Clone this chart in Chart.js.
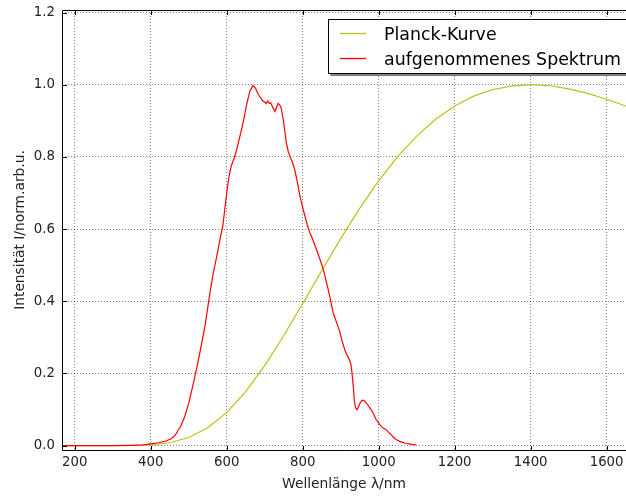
<!DOCTYPE html>
<html>
<head>
<meta charset="utf-8">
<script src="https://cdn.jsdelivr.net/npm/chart.js@4.4.1/dist/chart.umd.min.js"></script>
<style>
  body { margin: 0; background: #fff; overflow: hidden; }
  canvas { display: block; }
</style>
</head>
<body>
<canvas id="grafico" width="626" height="498"></canvas>
<script>
// Planck-Kurve (normiert)
const planckWl = [150, 200, 250, 300, 350, 400, 450, 500, 550, 600, 650, 700, 750, 800, 850, 900, 950,
    1000, 1050, 1100, 1150, 1200, 1250, 1300, 1350, 1400, 1450, 1500, 1550, 1600, 1650, 1700];
const planckVal = [0, 0, 0, 0.0000, 0.0004, 0.0021, 0.0081, 0.0225, 0.0494, 0.0916, 0.1496, 0.2217, 0.3045,
    0.3935, 0.4844, 0.5737, 0.6574, 0.7336, 0.8007, 0.8577, 0.9044, 0.9409, 0.9683, 0.9868, 0.9963,
    1.0, 0.9972, 0.9887, 0.9761, 0.9597, 0.941, 0.920];

// aufgenommenes Spektrum
const spekWl = [150, 200, 250, 300, 350, 380, 400, 420, 440, 455, 465, 472, 480, 490, 500, 514, 528, 543,
    556, 565, 574, 582, 590, 600, 606, 612, 622, 632, 640, 647, 653, 661, 666, 669, 672, 676, 680, 685,
    690, 695, 700, 704, 708, 712, 716, 720, 724, 727, 731, 735, 739, 743, 749, 757, 762, 767, 773, 779,
    786, 793, 800, 806, 812, 819, 827, 836, 845, 854, 861, 867, 874, 880, 888, 897, 905, 912, 918, 923,
    927, 930, 933, 936, 939, 943, 947, 951, 956, 960, 965, 972, 980, 987, 993, 1000, 1006, 1012, 1019,
    1025, 1033, 1040, 1046, 1055, 1063, 1072, 1081, 1090, 1099];
const spekVal = [0, 0, 0, 0, 0.001, 0.002, 0.005, 0.008, 0.013, 0.020, 0.030, 0.042, 0.056, 0.082, 0.117,
    0.180, 0.250, 0.332, 0.424, 0.480, 0.525, 0.570, 0.610, 0.700, 0.745, 0.775, 0.803, 0.845, 0.880,
    0.915, 0.948, 0.982, 0.992, 0.998, 0.995, 0.990, 0.980, 0.970, 0.963, 0.955, 0.952, 0.948, 0.955,
    0.948, 0.950, 0.940, 0.932, 0.926, 0.937, 0.948, 0.945, 0.938, 0.903, 0.839, 0.815, 0.800, 0.785,
    0.765, 0.730, 0.690, 0.660, 0.636, 0.612, 0.590, 0.570, 0.544, 0.518, 0.489, 0.460, 0.433, 0.400,
    0.369, 0.345, 0.318, 0.285, 0.262, 0.248, 0.238, 0.225, 0.200, 0.165, 0.125, 0.105, 0.100, 0.108,
    0.118, 0.125, 0.126, 0.121, 0.112, 0.100, 0.087, 0.073, 0.063, 0.054, 0.048, 0.045, 0.038, 0.030,
    0.022, 0.017, 0.012, 0.009, 0.006, 0.005, 0.003, 0.002];

const xTicks = [200, 400, 600, 800, 1000, 1200, 1400, 1600];
const yTicks = [0.0, 0.2, 0.4, 0.6, 0.8, 1.0, 1.2];

const fontFam = "'DejaVu Sans', sans-serif";

function punkte(xs, ys) {
    return xs.map((x, i) => ({ x: x, y: ys[i] }));
}

function ohnePadding(s) {
    s.paddingTop = 0;
    s.paddingBottom = 0;
    s.paddingLeft = 0;
    s.paddingRight = 0;
}

// Rahmen + Ticks nach innen (wie matplotlib)
const rahmen = {
    id: 'rahmen',
    afterDatasetsDraw(chart) {
        const ctx = chart.ctx;
        const a = chart.chartArea;
        const l = Math.round(a.left) + 0.5, t = Math.round(a.top) + 0.5, b = Math.round(a.bottom) + 0.5;
        ctx.save();
        ctx.strokeStyle = '#000';
        ctx.lineWidth = 1;
        ctx.beginPath();
        ctx.moveTo(a.right + 2, t); ctx.lineTo(l, t); ctx.lineTo(l, b); ctx.lineTo(a.right + 2, b);
        const xs = chart.scales.x, ys = chart.scales.y;
        xTicks.forEach(v => {
            const px = Math.round(xs.getPixelForValue(v)) + 0.5;
            ctx.moveTo(px, b); ctx.lineTo(px, b - 4.5);
            ctx.moveTo(px, t); ctx.lineTo(px, t + 4.5);
        });
        yTicks.forEach(v => {
            const py = Math.round(ys.getPixelForValue(v)) + 0.5;
            ctx.moveTo(l, py); ctx.lineTo(l + 4.5, py);
        });
        ctx.stroke();
        ctx.restore();
    }
};

// Legende mit Schatten
const legende = {
    id: 'legende',
    afterDraw(chart) {
        const ctx = chart.ctx;
        const x = 328.5, y = 19.5, w = 340, h = 54;
        ctx.save();
        ctx.fillStyle = 'rgba(0,0,0,0.5)';
        ctx.fillRect(x + 2, y + 2.5, w, h);
        ctx.fillStyle = '#fff';
        ctx.fillRect(x, y, w, h);
        ctx.strokeStyle = '#000';
        ctx.lineWidth = 1;
        ctx.strokeRect(x, y, w, h);
        ctx.font = '17.4px ' + fontFam;
        ctx.textBaseline = 'alphabetic';
        chart.data.datasets.forEach((ds, i) => {
            const ly = 33.5 + i * 25;
            ctx.strokeStyle = ds.borderColor;
            ctx.lineWidth = 1.3;
            ctx.beginPath();
            ctx.moveTo(340, ly);
            ctx.lineTo(366, ly);
            ctx.stroke();
            ctx.fillStyle = '#000';
            ctx.fillText(ds.label, 384, 39.5 + i * 25);
        });
        ctx.restore();
    }
};

new Chart(document.getElementById('grafico').getContext('2d'), {
    type: 'line',
    data: {
        datasets: [{
            label: 'Planck-Kurve',
            data: punkte(planckWl, planckVal),
            borderColor: '#bfbf1a',
            borderWidth: 1.2,
            pointRadius: 0,
            tension: 0,
            order: 2
        }, {
            label: 'aufgenommenes Spektrum',
            data: punkte(spekWl, spekVal),
            borderColor: '#ff0000',
            borderWidth: 1.2,
            pointRadius: 0,
            tension: 0,
            order: 1
        }]
    },
    options: {
        responsive: false,
        animation: false,
        devicePixelRatio: 1,
        layout: { padding: { top: 10, right: 0, left: 0, bottom: 0 } },
        plugins: {
            legend: { display: false },
            tooltip: { enabled: false }
        },
        scales: {
            x: {
                type: 'linear',
                min: 166.5,
                max: 1651,
                afterBuildTicks: s => { s.ticks = xTicks.map(v => ({ value: v })); },
                afterFit: s => { s.height = 48; ohnePadding(s); },
                grid: { color: 'rgba(0,0,0,0.5)', lineWidth: 1, drawTicks: false },
                border: { display: false, dash: [1, 2] },
                ticks: {
                    padding: 5,
                    color: '#222',
                    maxRotation: 0,
                    font: { family: fontFam, size: 13.3 },
                    callback: v => String(v)
                },
                title: {
                    display: true,
                    text: 'Wellenlänge λ/nm',
                    color: '#222',
                    font: { family: fontFam, size: 13.8 },
                    padding: { top: 0, bottom: 5 }
                }
            },
            y: {
                min: -0.012,
                max: 1.207,
                afterBuildTicks: s => { s.ticks = yTicks.map(v => ({ value: v })); },
                afterFit: s => { s.width = 62; ohnePadding(s); },
                grid: { color: 'rgba(0,0,0,0.5)', lineWidth: 1, drawTicks: false },
                border: { display: false, dash: [1, 2] },
                ticks: {
                    padding: 7,
                    color: '#222',
                    font: { family: fontFam, size: 13.3 },
                    callback: v => v.toFixed(1)
                },
                title: {
                    display: true,
                    text: 'Intensität I/norm.arb.u.',
                    color: '#222',
                    font: { family: fontFam, size: 13.8 },
                    padding: { top: 12, bottom: 0 }
                }
            }
        }
    },
    plugins: [rahmen, legende]
});
</script>
</body>
</html>
